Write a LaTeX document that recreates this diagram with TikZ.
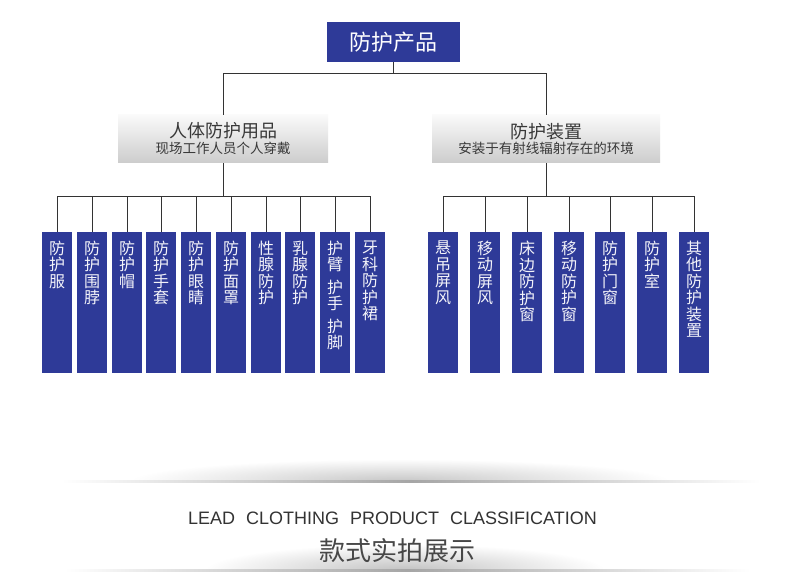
\documentclass[tikz,border=0pt]{standalone}
\usepackage{fontspec}
\newfontfamily\cjk{Noto Sans CJK SC}
\newfontfamily\en{Liberation Sans}[WordSpace=2.2]
\definecolor{navy}{RGB}{46,58,152}
\definecolor{ln}{RGB}{51,51,51}
\begin{document}
\begin{tikzpicture}[x=1pt,y=-1pt,
 leaf/.style={fill=navy, minimum width=30pt, minimum height=141pt, inner sep=0pt, draw=none},
 leaftext/.style={anchor=north, text=white!94!navy, font=\cjk\fontsize{16}{16.5}\selectfont, align=center, inner sep=0pt, yshift=-9pt},
 conn/.style={draw=ln, line width=0.9pt},
 graybox/.style={top color=black!2, bottom color=black!20, inner sep=0pt, minimum height=48pt, align=center, font=\cjk, text=black!78}]

\useasboundingbox[fill=white] (0,0) rectangle (790,585);

% top node
\node[fill=navy, minimum width=133pt, minimum height=40pt, inner sep=0pt, text=white,
      font=\cjk\fontsize{22}{22}\selectfont] (top) at (393.5,42) {防护产品};

% level 2
\node[graybox, minimum width=210pt] (L) at (223,139)
  {{\fontsize{18}{18}\selectfont 人体防护用品}\\[2pt]{\fontsize{13.5}{14}\selectfont 现场工作人员个人穿戴}};
\node[graybox, minimum width=228pt] (R) at (546,139)
  {{\fontsize{18}{18}\selectfont 防护装置}\\[2pt]{\fontsize{13.5}{14}\selectfont 安装于有射线辐射存在的环境}};

\draw[conn] (top.south) -- ++(0,11) -| (L.north);
\draw[conn] (top.south) -- ++(0,11) -| (R.north);

% left leaves
\foreach \i/\x/\t in {1/57/{防\\护\\服},2/92/{防\\护\\围\\脖},3/127/{防\\护\\帽},4/161/{防\\护\\手\\套},
  5/196/{防\\护\\眼\\睛},6/231/{防\\护\\面\\罩},7/266/{性\\腺\\防\\护},8/300/{乳\\腺\\防\\护},
  9/335/{护\\臂\\[6pt]护\\手\\[6pt]护\\脚},10/370/{牙\\科\\防\\护\\裙}}{
  \node[leaf] (a\i) at (\x,302.5) {};
  \node[leaftext] (at\i) at (a\i.north) {\t};
  \draw[conn] (L.south) -- ++(0,33) -| (a\i.north);
}

% right leaves
\foreach \i/\x/\t in {1/443/{悬\\吊\\屏\\风},2/485/{移\\动\\屏\\风},3/527/{床\\边\\防\\护\\窗},
  4/569/{移\\动\\防\\护\\窗},5/610/{防\\护\\门\\窗},6/652/{防\\护\\室},7/694/{其\\他\\防\\护\\装\\置}}{
  \node[leaf] (b\i) at (\x,302.5) {};
  \node[leaftext] (bt\i) at (b\i.north) {\t};
  \draw[conn] (R.south) -- ++(0,33) -| (b\i.north);
}

% bottom decoration 1
\begin{scope}
  \clip (0,450) rectangle (790,481);
  \shade[inner color=black!22, outer color=white] (400,481) ellipse [x radius=270, y radius=22];
\end{scope}
\shade[left color=white, right color=white, middle color=black!35] (62,480.2) rectangle (760,482.2);

\node[font=\en\fontsize{18}{18}\selectfont, text=black!80, inner sep=0pt] (eng) at (392.5,518) {LEAD CLOTHING PRODUCT CLASSIFICATION};

% bottom decoration 2
\begin{scope}
  \clip (0,535) rectangle (790,570);
  \shade[inner color=black!24, outer color=white] (405,570) ellipse [x radius=200, y radius=26];
\end{scope}
\shade[left color=white, right color=white, middle color=black!35] (65,569.2) rectangle (750,571.2);

\node[font=\cjk\fontsize{26}{26}\selectfont, text=black!72, inner sep=0pt] (kuan) at (397,551) {款式实拍展示};
\end{tikzpicture}
\end{document}
